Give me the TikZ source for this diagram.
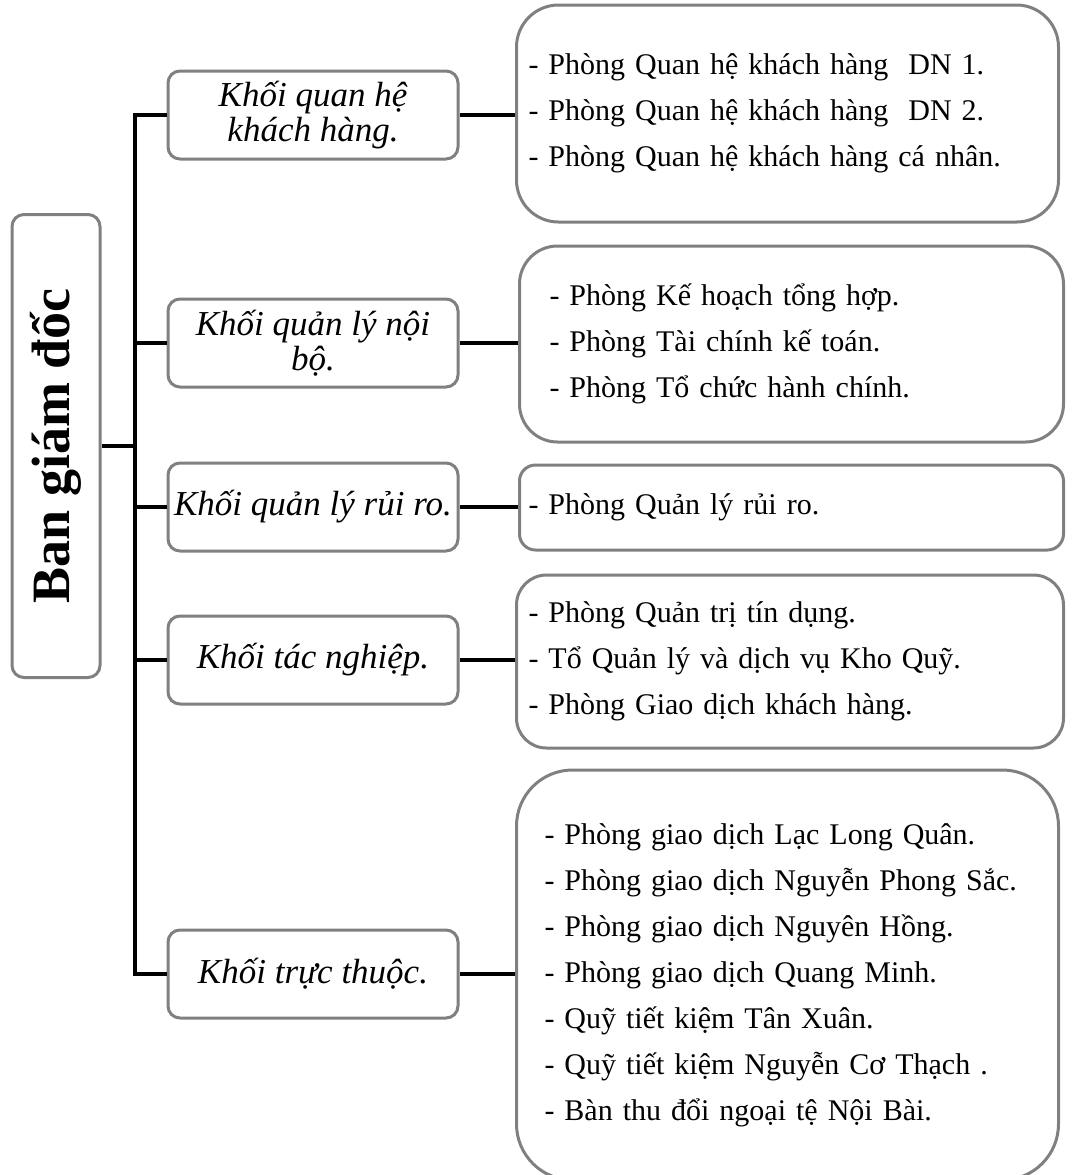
\documentclass[tikz,border=0pt]{standalone}
\usepackage{fontspec}
\setmainfont{Liberation Serif}
\usetikzlibrary{positioning}

\begin{document}
\begin{tikzpicture}[x=0.5pt, y=-0.5pt,
    boss/.style={draw=boxgray, line width=1.5pt, rounded corners=6pt,
      minimum width=44pt, minimum height=231.5pt, inner sep=0pt,
      font=\fontsize{27}{29}\selectfont\bfseries},
    block/.style={draw=boxgray, line width=1.5pt, rounded corners=6pt,
      minimum width=145pt, minimum height=44pt, inner sep=1pt, align=center,
      font=\fontsize{17.5}{17.5}\selectfont\itshape},
    dept/.style={draw=boxgray, line width=1.5pt, anchor=west, align=left,
      font=\fontsize{15}{23}\selectfont},
    link/.style={line width=2pt, black}]
  \definecolor{boxgray}{RGB}{128,128,128}

  \def\trunkx{135}
  \def\midx{313}
  \def\deptx{515}

  \useasboundingbox (0,0) rectangle (1078,1175);

  % board of directors
  \node[boss] (ban) at (56,446) {\rotatebox{90}{Ban giám đốc}};
  \coordinate (trunk) at (\trunkx,0);

  % blocks
  \node[block] (k1) at (\midx,115) {Khối quan hệ\\khách hàng.};
  \node[block] (k2) at (\midx,343) {Khối quản lý nội\\bộ.};
  \node[block] (k3) at (\midx,507) {Khối quản lý rủi ro.};
  \node[block] (k4) at (\midx,660) {Khối tác nghiệp.};
  \node[block] (k5) at (\midx,974) {Khối trực thuộc.};

  % departments
  \node[dept, text width=259pt, inner xsep=6pt, minimum height=108.5pt,
    rounded corners=21pt] (p1) at (\deptx,113.5)
    {- Phòng Quan hệ khách hàng\ \ DN 1.\\
     - Phòng Quan hệ khách hàng\ \ DN 2.\\
     - Phòng Quan hệ khách hàng cá nhân.};
  \node[dept, text width=242pt, inner xsep=15pt, minimum height=98pt,
    rounded corners=19pt] (p2) at (518,344)
    {- Phòng Kế hoạch tổng hợp.\\
     - Phòng Tài chính kế toán.\\
     - Phòng Tổ chức hành chính.};
  \node[dept, text width=263pt, inner xsep=4.5pt, minimum height=42.5pt,
    rounded corners=8pt] (p3) at (518,507.5)
    {- Phòng Quản lý rủi ro.};
  \node[dept, text width=261.5pt, inner xsep=6pt, minimum height=86.5pt,
    rounded corners=15pt] (p4) at (\deptx,661.5)
    {- Phòng Quản trị tín dụng.\\
     - Tổ Quản lý và dịch vụ Kho Quỹ.\\
     - Phòng Giao dịch khách hàng.};
  \node[dept, text width=243pt, inner xsep=14pt, minimum height=205pt,
    rounded corners=28pt] (p5) at (\deptx,975)
    {- Phòng giao dịch Lạc Long Quân.\\
     - Phòng giao dịch Nguyễn Phong Sắc.\\
     - Phòng giao dịch Nguyên Hồng.\\
     - Phòng giao dịch Quang Minh.\\
     - Quỹ tiết kiệm Tân Xuân.\\
     - Quỹ tiết kiệm Nguyễn Cơ Thạch .\\
     - Bàn thu đổi ngoại tệ Nội Bài.};

  % connectors
  \draw[link] (ban.east) -- (ban.east -| trunk);
  \draw[link] (k1.west) -- (k1.west -| trunk) -- (k5.west -| trunk) -- (k5.west);
  \foreach \i in {2,3,4}
    \draw[link] (k\i.west -| trunk) -- (k\i.west);
  \foreach \i in {1,...,5}
    \draw[link] (k\i.east) -- (k\i.east -| p\i.west);
\end{tikzpicture}
\end{document}
